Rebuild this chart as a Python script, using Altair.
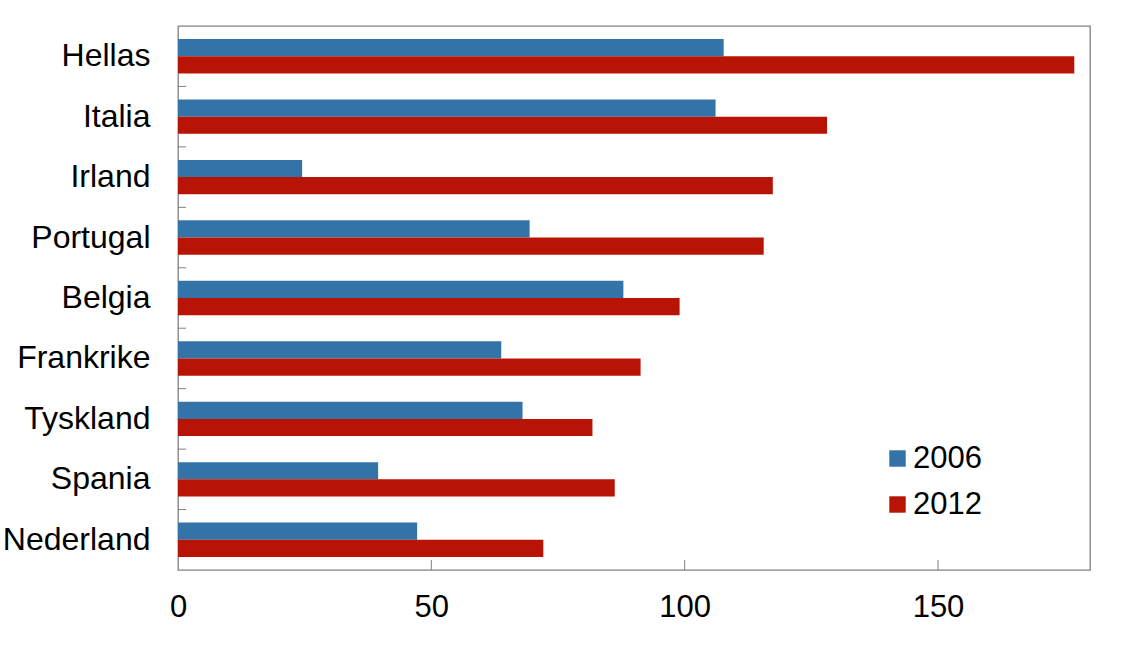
import altair as alt
import pandas as pd

countries = ["Hellas", "Italia", "Irland", "Portugal", "Belgia",
             "Frankrike", "Tyskland", "Spania", "Nederland"]
v2006 = [107.7, 106.1, 24.5, 69.4, 87.9, 63.8, 68.0, 39.5, 47.2]
v2012 = [176.9, 128.1, 117.4, 115.6, 99.0, 91.3, 81.8, 86.2, 72.1]
years = ["2006", "2012"]
colors = ["#3473A8", "#B81405"]
x_ticks = [0, 50, 100, 150]
inner_ticks = [50, 100, 150]

rows = []
for c, a, b in zip(countries, v2006, v2012):
    rows.append({"land": c, "år": "2006", "verdi": a})
    rows.append({"land": c, "år": "2012", "verdi": b})
df = pd.DataFrame(rows)

W, H = 912, 544
FONT = "Liberation Sans"

yscale = alt.Scale(domain=countries, paddingInner=0, paddingOuter=0)
xscale = alt.Scale(domain=[0, 180], nice=False, zero=True)

bars = alt.Chart(df).mark_bar(size=17.2).encode(
    y=alt.Y("land:N", scale=yscale, sort=countries,
            axis=alt.Axis(title=None, ticks=False, domain=False,
                          labelFontSize=32, labelFont=FONT, labelColor="#000",
                          labelPadding=28)),
    yOffset=alt.YOffset("år:N", scale=alt.Scale(domain=years, paddingInner=0, paddingOuter=0.756)),
    x=alt.X("verdi:Q", scale=xscale,
            axis=alt.Axis(title=None, values=x_ticks, ticks=False, domain=False, grid=False,
                          labelFontSize=31, labelFont=FONT, labelColor="#000",
                          labelPadding=22, labelFlush=False, format="d")),
    color=alt.Color("år:N", scale=alt.Scale(domain=years, range=colors),
                    legend=alt.Legend(title=None, orient="none", legendX=704, legendY=417,
                                      symbolType="square", symbolSize=270,
                                      symbolStrokeWidth=0, labelFontSize=31, labelFont=FONT,
                                      labelColor="#000", labelOffset=0, rowPadding=14,
                                      padding=0)),
)

ytick_df = pd.DataFrame({"land": countries[1:]})
yticks = alt.Chart(ytick_df).mark_rule(color="#808080", strokeWidth=1).encode(
    y=alt.Y("land:N", scale=yscale, sort=countries, bandPosition=0),
    x=alt.value(0), x2=alt.value(8),
)

xtick_df = pd.DataFrame({"v": inner_ticks})
xticks = alt.Chart(xtick_df).mark_rule(color="#808080", strokeWidth=1).encode(
    x=alt.X("v:Q", scale=xscale),
    y=alt.value(H - 10), y2=alt.value(H),
)

chart = alt.layer(bars, yticks, xticks).properties(
    width=W, height=H,
    autosize=alt.AutoSizeParams(type="none"),
    padding={"left": 178, "top": 26, "right": 48, "bottom": 75},
    background="white",
).configure_view(stroke="#808080", strokeWidth=1.3)

chart.save("out.html", embed_options={"renderer": "svg", "actions": False})
